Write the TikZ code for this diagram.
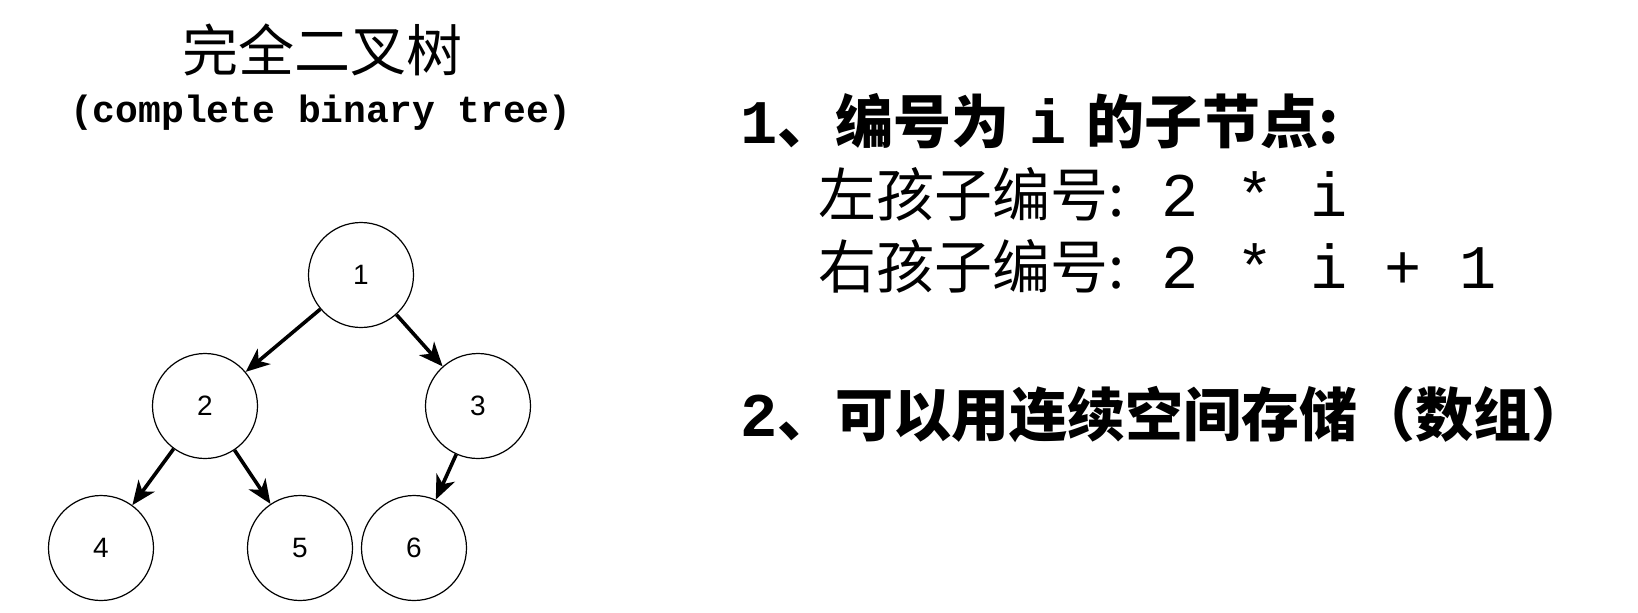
\documentclass[tikz,border=0pt]{standalone}
\usepackage{fontspec}
\usetikzlibrary{arrows.meta}
\newfontfamily\cjk{Noto Sans CJK SC}
\newfontfamily\mono{Liberation Mono}
\newfontfamily\numfont{Liberation Sans}
\newcommand\mtxt[1]{{\mono\fontsize{31}{31}\selectfont #1}}

\begin{document}
\begin{tikzpicture}[x=0.5pt,y=-0.5pt,
		vertex/.style={draw,circle,line width=0.6pt,minimum size=52.5pt,inner sep=0pt,font=\numfont\fontsize{14}{14}\selectfont},
		link/.style={line width=1.8pt,-{Stealth[length=12pt,width=10pt,inset=3.5pt]}},
		textline/.style={anchor=west,inner sep=0pt,font=\cjk\fontsize{29}{29}\selectfont}]
				\useasboundingbox (0,0) rectangle (1638,612);
				
				\node (title) at (322,50) {\cjk\fontsize{28}{28}\selectfont 完全二叉树};
				\node (subtitle) at (321,113) {\mono\bfseries\fontsize{19}{19}\selectfont (complete binary tree)};
				
				\node[vertex] (n1) at (361,275) {1};
				\node[vertex] (n2) at (205,406) {2};
				\node[vertex] (n3) at (478,406) {3};
				\node[vertex] (n4) at (101,548) {4};
				\node[vertex] (n5) at (300,548) {5};
				\node[vertex] (n6) at (414,548) {6};
				
				\draw[link] (n1) -- (n2);
				\draw[link] (n1) -- (n3);
				\draw[link] (n2) -- (n4);
				\draw[link] (n2) -- (n5);
				\draw[link] (n3) -- (n6);
				
				\node[textline] (rule1) at (740,121) {\mtxt{\bfseries 1}{\bfseries 、编号为}\hspace{10pt}\mtxt{\bfseries i}\hspace{10pt}{\bfseries 的子节点:}};
				\node[textline] (left) at (818,194) {左孩子编号:\mtxt{~2 * i}};
				\node[textline] (right) at (818,266) {右孩子编号:\mtxt{~2 * i + 1}};
				\node[textline] (rule2) at (740,415) {\mtxt{\bfseries 2}{\bfseries 、可以用连续空间存储（数组）}};
\end{tikzpicture}
\end{document}
